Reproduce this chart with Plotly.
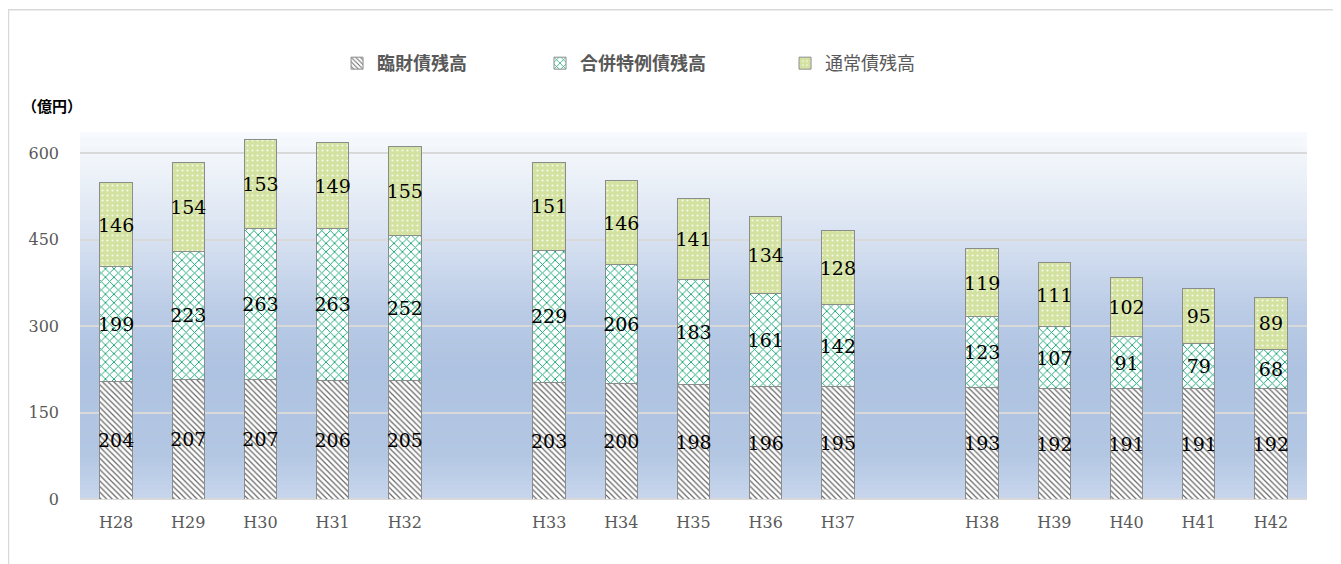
import plotly.graph_objects as go

years = ["H28", "H29", "H30", "H31", "H32", "H33", "H34", "H35", "H36", "H37",
         "H38", "H39", "H40", "H41", "H42"]
axis_order = ["H28", "H29", "H30", "H31", "H32", " ",
              "H33", "H34", "H35", "H36", "H37", "  ",
              "H38", "H39", "H40", "H41", "H42"]
rinzai = [204, 207, 207, 206, 205, 203, 200, 198, 196, 195, 193, 192, 191, 191, 192]
gappei = [199, 223, 263, 263, 252, 229, 206, 183, 161, 142, 123, 107, 91, 79, 68]
tsujo = [146, 154, 153, 149, 155, 151, 146, 141, 134, 128, 119, 111, 102, 95, 89]
names = ["<b>臨財債残高</b>", "<b>合併特例債残高</b>", "通常債残高"]
y_ticks = [0, 150, 300, 450, 600]

serif = "Century Schoolbook, 'DejaVu Serif', 'Liberation Serif', serif"
cjk = "'Noto Sans CJK JP', 'Noto Sans', sans-serif"

def xs(vals):
    m = dict(zip(years, vals))
    return [m.get(c) for c in axis_order]

fig = go.Figure()
styles = [
    dict(color="white", pattern=dict(shape="\\", fgcolor="#666666", bgcolor="white",
                                     size=4, solidity=0.3, fillmode="replace")),
    dict(color="white", pattern=dict(shape="x", fgcolor="#10a270", bgcolor="white",
                                     size=6, solidity=0.28, fillmode="replace")),
    dict(color="#d3e2a0", pattern=dict(shape=".", fgcolor="#f7faec", bgcolor="#d3e2a0",
                                       size=5, solidity=0.15, fillmode="replace")),
]
legend_ids = ["legend", "legend2", "legend3"]
for vals, name, st, lg in zip([rinzai, gappei, tsujo], names, styles, legend_ids):
    fig.add_trace(go.Bar(
        x=axis_order, y=xs(vals), name=name, legend=lg,
        text=[str(v) if v is not None else "" for v in xs(vals)],
        textposition="inside", insidetextanchor="middle", textangle=0,
        constraintext="none",
        textfont=dict(family=serif, size=19, color="black"),
        marker=dict(color=st["color"], pattern=st["pattern"],
                    line=dict(color="#8c8c8c", width=1)),
        width=0.45,
    ))

# gradient background
stops = [(0.0, (0xc8, 0xd6, 0xec)), (0.12, (0xb3, 0xc7, 0xe3)), (0.35, (0xae, 0xc3, 0xe1)),
         (0.5, (0xb8, 0xca, 0xe5)), (0.7, (0xd6, 0xe0, 0xf0)), (0.9, (0xee, 0xf3, 0xf9)),
         (1.0, (0xf6, 0xf9, 0xfd))]
def col(t):
    for (t0, c0), (t1, c1) in zip(stops[:-1], stops[1:]):
        if t0 <= t <= t1:
            f = (t - t0) / (t1 - t0) if t1 > t0 else 0
            return "rgb(%d,%d,%d)" % tuple(round(a + (b - a) * f) for a, b in zip(c0, c1))
    return "rgb(246,249,253)"
N = 80
shapes = []
for i in range(N):
    shapes.append(dict(type="rect", xref="x domain", yref="y domain",
                       x0=0, x1=1, y0=i / N, y1=(i + 1) / N + 0.002,
                       fillcolor=col((i + 0.5) / N), line=dict(width=0), layer="below"))
shapes.append(dict(type="rect", xref="paper", yref="paper",
                   x0=-0.0583, x1=1.0253, y0=-0.3, y1=1.337,
                   line=dict(color="#d9d9d9", width=1.5), fillcolor="rgba(0,0,0,0)"))

lfont = dict(family=cjk, size=18, color="#595959")
def leg(x):
    return dict(orientation="h", x=x, xanchor="left", y=1.19, yanchor="middle",
                font=lfont, bgcolor="rgba(0,0,0,0)")

fig.update_layout(
    width=1341, height=564,
    margin=dict(l=72, r=42, t=125, b=73),
    paper_bgcolor="white", plot_bgcolor="rgba(0,0,0,0)",
    barmode="stack", bargap=0.55,
    shapes=shapes,
    showlegend=True,
    legend=leg(0.2095), legend2=leg(0.3749), legend3=leg(0.5746),
    xaxis=dict(type="category", categoryorder="array", categoryarray=axis_order,
               tickfont=dict(family=serif, size=16, color="#595959"),
               showline=False, ticks="", showgrid=False, ticklabelstandoff=12),
    yaxis=dict(range=[0, 635], tickvals=y_ticks,
               tickfont=dict(family=serif, size=16, color="#595959"),
               gridcolor="#d9d9d9", gridwidth=1.5, zeroline=True, zerolinecolor="#d9d9d9",
               zerolinewidth=1.5, ticks="", ticklabelstandoff=20),
    annotations=[dict(text="<b>（億円）</b>", xref="paper", yref="paper",
                      x=-0.049, y=1.0765, xanchor="left", yanchor="middle", showarrow=False,
                      font=dict(family=cjk, size=15, color="black"))],
)
fig.write_html("out.html")
